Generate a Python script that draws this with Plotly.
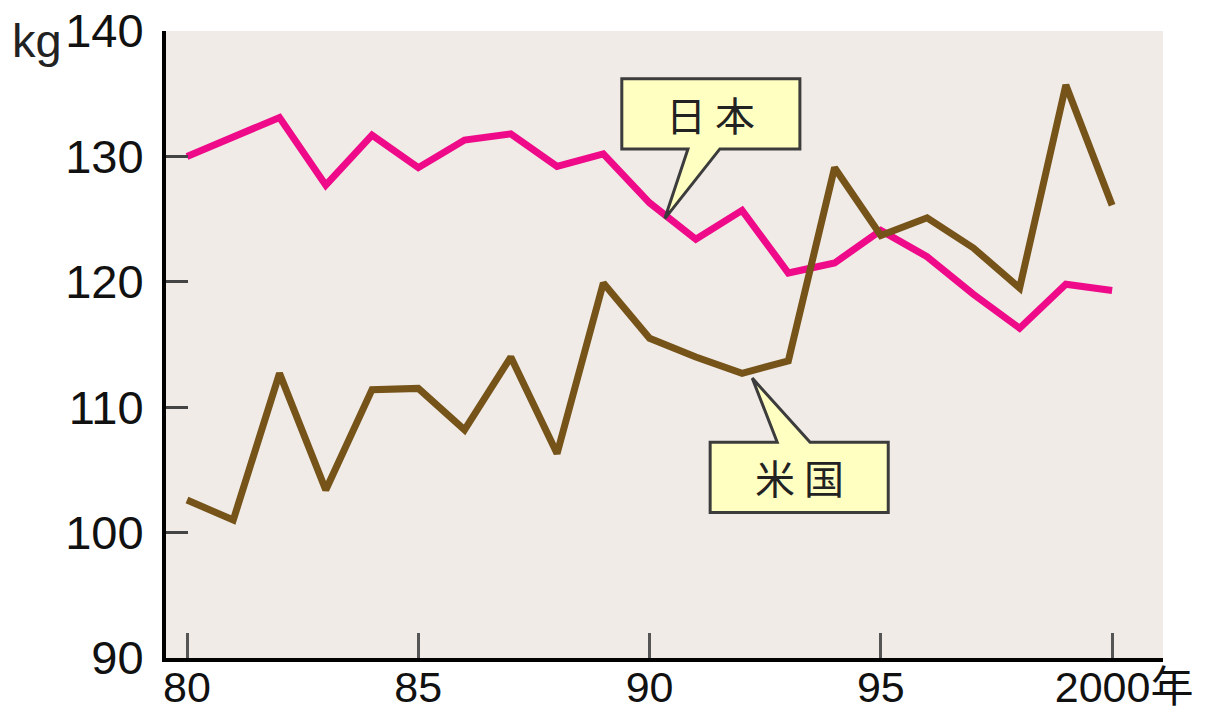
import plotly.graph_objects as go

# Annual per-capita consumption (kg), 1980-2000
years = list(range(1980, 2001))
japan = [130.0, 131.5, 133.1, 127.7, 131.7, 129.1, 131.3, 131.8, 129.2, 130.2,
         126.3, 123.4, 125.7, 120.7, 121.5, 124.1, 122.0, 119.0, 116.3, 119.8, 119.3]
usa = [102.6, 101.0, 112.7, 103.4, 111.4, 111.5, 108.2, 114.0, 106.3, 119.9,
       115.5, 114.0, 112.7, 113.7, 129.1, 123.7, 125.1, 122.7, 119.5, 135.7, 126.1]

x_tickvals = [1980, 1985, 1990, 1995, 2000]
x_ticktext = ["80", "85", "90", "95", "\u00a0\u00a02000年"]
y_tickvals = [90, 100, 110, 120, 130, 140]

series_names = ["日\u00a0本", "米\u00a0国"]

NUM_FONT = "Liberation Sans, Arial, Noto Sans CJK JP, sans-serif"
CJK_FONT = "Noto Sans CJK JP, Noto Sans CJK SC, sans-serif"

fig = go.Figure()
fig.add_trace(go.Scatter(x=years, y=japan, mode="lines", name=series_names[0],
                         line=dict(color="#EE0A88", width=7), hoverinfo="skip"))
fig.add_trace(go.Scatter(x=years, y=usa, mode="lines", name=series_names[1],
                         line=dict(color="#765318", width=7), hoverinfo="skip"))


def interp(xs, ys, x):
    for i in range(len(xs) - 1):
        if xs[i] <= x <= xs[i + 1]:
            t = (x - xs[i]) / (xs[i + 1] - xs[i])
            return ys[i] + t * (ys[i + 1] - ys[i])
    return ys[-1]


def callout_path(x0, x1, ytop, ybot, bx0, bx1, tipx, tipy, pointer_below):
    if pointer_below:
        pts = [(x0, ytop), (x1, ytop), (x1, ybot), (bx1, ybot), (tipx, tipy),
               (bx0, ybot), (x0, ybot)]
    else:
        pts = [(x0, ytop), (bx0, ytop), (tipx, tipy), (bx1, ytop), (x1, ytop),
               (x1, ybot), (x0, ybot)]
    return "M " + " L ".join(f"{px},{py}" for px, py in pts) + " Z"


# callout for Japan: pointer down to the line just after 1990
jp_tx = 1990.33
jp_ty = interp(years, japan, jp_tx) - 0.3
jp_box = dict(x0=1989.40, x1=1993.25, ytop=136.2, ybot=130.6, bx0=1990.83, bx1=1991.52)
# callout for USA: pointer up to the line near 1992
us_tx = 1992.22
us_ty = interp(years, usa, us_tx) - 0.6
us_box = dict(x0=1991.31, x1=1995.16, ytop=107.2, ybot=101.6, bx0=1992.76, bx1=1993.47)

shapes = []
for box, tx, ty, below in [(jp_box, jp_tx, jp_ty, True), (us_box, us_tx, us_ty, False)]:
    shapes.append(dict(type="path", xref="x", yref="y",
                       path=callout_path(box["x0"], box["x1"], box["ytop"], box["ybot"],
                                         box["bx0"], box["bx1"], tx, ty, below),
                       fillcolor="#FFFFC2", line=dict(color="#3c3c3c", width=3),
                       layer="above"))

annotations = [
    dict(x=(jp_box["x0"] + jp_box["x1"]) / 2, y=(jp_box["ytop"] + jp_box["ybot"]) / 2,
         xref="x", yref="y", text=series_names[0], showarrow=False,
         font=dict(family=CJK_FONT, size=40, color="#222222")),
    dict(x=(us_box["x0"] + us_box["x1"]) / 2, y=(us_box["ytop"] + us_box["ybot"]) / 2,
         xref="x", yref="y", text=series_names[1], showarrow=False,
         font=dict(family=CJK_FONT, size=40, color="#222222")),
    dict(x=-0.1294, y=0.9856, xref="paper", yref="paper", text="kg", showarrow=False,
         xanchor="center", yanchor="middle",
         font=dict(family=NUM_FONT, size=47, color="#222222")),
]

fig.update_layout(
    width=1220, height=717,
    margin=dict(l=166, r=57, t=31, b=59),
    paper_bgcolor="white",
    plot_bgcolor="#F0EBE7",
    showlegend=False,
    shapes=shapes,
    annotations=annotations,
    xaxis=dict(range=[1979.546, 2001.1], tickvals=x_tickvals, ticktext=x_ticktext,
               automargin=False,
               showgrid=False, zeroline=False, showline=True, linecolor="black",
               linewidth=4, ticks="inside", ticklen=25, tickwidth=3, tickcolor="#555555",
               tickfont=dict(family=NUM_FONT, size=43, color="#111111"),
               ticklabelstandoff=-12),
    yaxis=dict(range=[90, 140], tickvals=y_tickvals,
               automargin=False,
               showgrid=False, zeroline=False, showline=True, linecolor="black",
               linewidth=4, ticks="inside", ticklen=22, tickwidth=3, tickcolor="#444444",
               tickfont=dict(family=NUM_FONT, size=47, color="#111111"),
               ticklabelstandoff=9),
)

fig.write_html("out.html")
